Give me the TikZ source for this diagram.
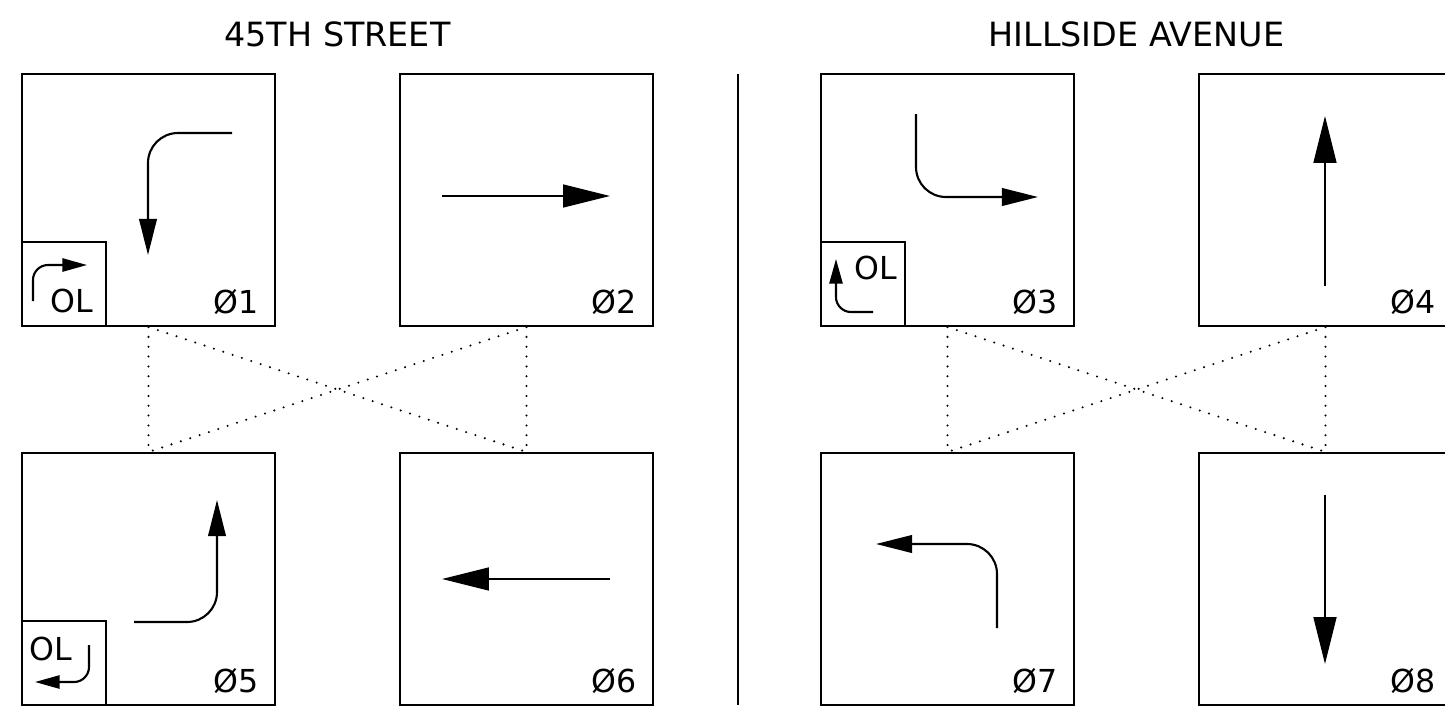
\documentclass[tikz,border=0pt]{standalone}
\usepackage{fontspec}
\setmainfont{DejaVu Sans}
\usepackage{tikz}
\usetikzlibrary{arrows.meta,positioning}
\tikzset{
    phase/.style={draw, line width=1.2pt, minimum width=5.06cm, minimum height=5.04cm, inner sep=0pt},
    olbox/.style={draw, line width=1.2pt, minimum size=1.68cm, inner sep=0pt},
    lbl/.style={font=\fontsize{18}{21}\selectfont, inner sep=0pt},
    title/.style={font=\fontsize{19}{23}\selectfont, inner sep=0pt, anchor=base},
    straight/.style={line width=1.2pt, -{Triangle[length=26.7pt,width=13pt]}},
    turn/.style={line width=1.2pt, rounded corners=0.6cm, -{Triangle[length=20.5pt,width=10pt]}},
    olturn/.style={line width=1.2pt, rounded corners=0.3cm, -{Triangle[length=14pt,width=7.5pt]}},
    linkdots/.style={line width=1.3pt, line cap=round, dash pattern=on 0pt off 5.6pt}
}
\newcommand{\phaselabel}[2]{
    \node[lbl, anchor=base east] (l#1) at ([xshift=-0.34cm,yshift=0.28cm]#2.south east) {Ø#1};
}
\begin{document}
\begin{tikzpicture}[x=0.02cm, y=-0.02cm]
        \useasboundingbox (0,0) rectangle (1445,708);

        % street names
        \node[title] (west) at (337.5,46) {45TH STREET};
        \node[title] (east) at (1136.5,46) {HILLSIDE AVENUE};

        \draw[line width=1.2pt] (738,74) -- (738,705);

        % phase boxes
        \node[phase] (p1) at (148.5,200) {};
        \node[phase] (p2) at (526.5,200) {};
        \node[phase] (p3) at (947.5,200) {};
        \node[phase] (p4) at (1325.5,200) {};
        \node[phase] (p5) at (148.5,579) {};
        \node[phase] (p6) at (526.5,579) {};
        \node[phase] (p7) at (947.5,579) {};
        \node[phase] (p8) at (1325.5,579) {};

        \phaselabel{1}{p1}
        \phaselabel{2}{p2}
        \phaselabel{3}{p3}
        \phaselabel{4}{p4}
        \phaselabel{5}{p5}
        \phaselabel{6}{p6}
        \phaselabel{7}{p7}
        \phaselabel{8}{p8}

        % overlaps
        \node[olbox, anchor=south west] (o1) at (p1.south west) {};
        \node[olbox, anchor=south west] (o3) at (p3.south west) {};
        \node[olbox, anchor=south west] (o5) at (p5.south west) {};
        \node[lbl, anchor=base] (t1) at (72,312) {OL};
        \node[lbl, anchor=base] (t3) at (876,279) {OL};
        \node[lbl, anchor=base] (t5) at (51,660) {OL};

        % movements
        \draw[turn] (232,133) -| (148,255);
        \draw[straight] (442,196) -- (610,196);
        \draw[turn] (916,114) |- (1038,197);
        \draw[straight] (1325,286) -- (1325,116);
        \draw[turn] (134,622) -| (217,500);
        \draw[straight] (610,579) -- (442,579);
        \draw[turn] (997,628) |- (876,544);
        \draw[straight] (1325,495) -- (1325,664);

        \draw[olturn] (33,301) |- (87,265);
        \draw[olturn] (873,312) -| (836,259);
        \draw[olturn] (89,645) |- (35,682);

        % concurrency
        \draw[linkdots] (p1.south) -- (p5.north);
        \draw[linkdots] (p2.south) -- (p6.north);
        \draw[linkdots] (p1.south) -- (p6.north);
        \draw[linkdots] (p2.south) -- (p5.north);
        \draw[linkdots] (p3.south) -- (p7.north);
        \draw[linkdots] (p4.south) -- (p8.north);
        \draw[linkdots] (p3.south) -- (p8.north);
        \draw[linkdots] (p4.south) -- (p7.north);

\end{tikzpicture}
\end{document}
